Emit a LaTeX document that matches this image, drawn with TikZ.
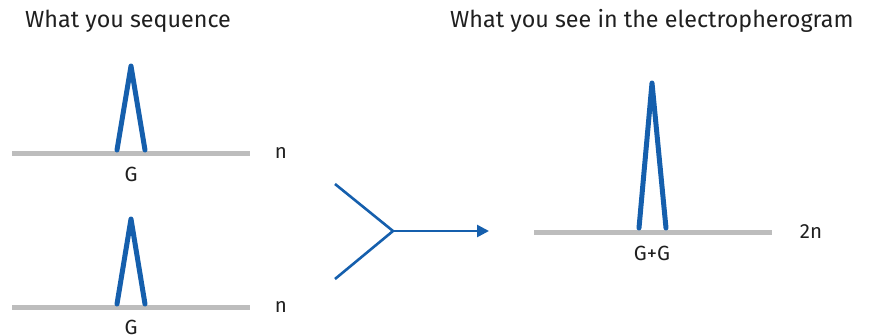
\documentclass[tikz,border=0pt]{standalone}
\usepackage{fontspec}
\setmainfont{Fira Sans}
\usetikzlibrary{arrows.meta}
\definecolor{peakblue}{HTML}{155FAD}
\definecolor{basegray}{HTML}{BDBDBD}
\tikzset{
  baseline/.style={draw=basegray, line width=5pt},
  peak/.style={draw=peakblue, line width=5pt, line cap=round, line join=round},
  flow/.style={draw=peakblue, line width=2.6pt},
  title/.style={font=\fontsize{23.3}{28}\selectfont, text=black!88, inner sep=0pt},
  lbl/.style={font=\fontsize{20.5}{24}\selectfont, text=black!88, inner sep=0pt}
}
\begin{document}
\begin{tikzpicture}[x=1pt,y=-1pt]
\useasboundingbox (0,0) rectangle (869,335);
\node[title, anchor=west] (t1) at (25,21) {What you sequence};
\node[title, anchor=west] (t2) at (450,21) {What you see in the electropherogram};
% panel 1
\coordinate (b1l) at (12,153); \coordinate (b1r) at (250,153);
\draw[baseline] (b1l) -- (b1r);
\coordinate (p1a) at (117,150); \coordinate (p1b) at (131,66); \coordinate (p1c) at (145,150);
\draw[peak] (p1a) -- (p1b) -- (p1c);
\node[lbl] (g1) at (131,174) {G};
\node[lbl] (n1) at (281,153) {n};
% panel 2
\coordinate (b2l) at (12,307); \coordinate (b2r) at (250,307);
\draw[baseline] (b2l) -- (b2r);
\coordinate (p2a) at (117,304); \coordinate (p2b) at (131,219); \coordinate (p2c) at (145,304);
\draw[peak] (p2a) -- (p2b) -- (p2c);
\node[lbl] (g2) at (131,327) {G};
\node[lbl] (n2) at (281,307) {n};
% merge arrow
\coordinate (u) at (335,184); \coordinate (d) at (335,279);
\coordinate (m) at (393,231); \coordinate (e) at (489,231);
\draw[flow] (u) -- (m) -- (d);
\draw[flow, -{Triangle[length=12pt,width=12pt]}] (m) -- (e);
% right panel
\coordinate (b3l) at (534,232); \coordinate (b3r) at (772,232);
\draw[baseline] (b3l) -- (b3r);
\coordinate (p3a) at (639,228); \coordinate (p3b) at (652,83); \coordinate (p3c) at (666,228);
\draw[peak] (p3a) -- (p3b) -- (p3c);
\node[lbl] (g3) at (652,253) {G+G};
\node[lbl] (n3) at (811,232) {2n};
\end{tikzpicture}
\end{document}
